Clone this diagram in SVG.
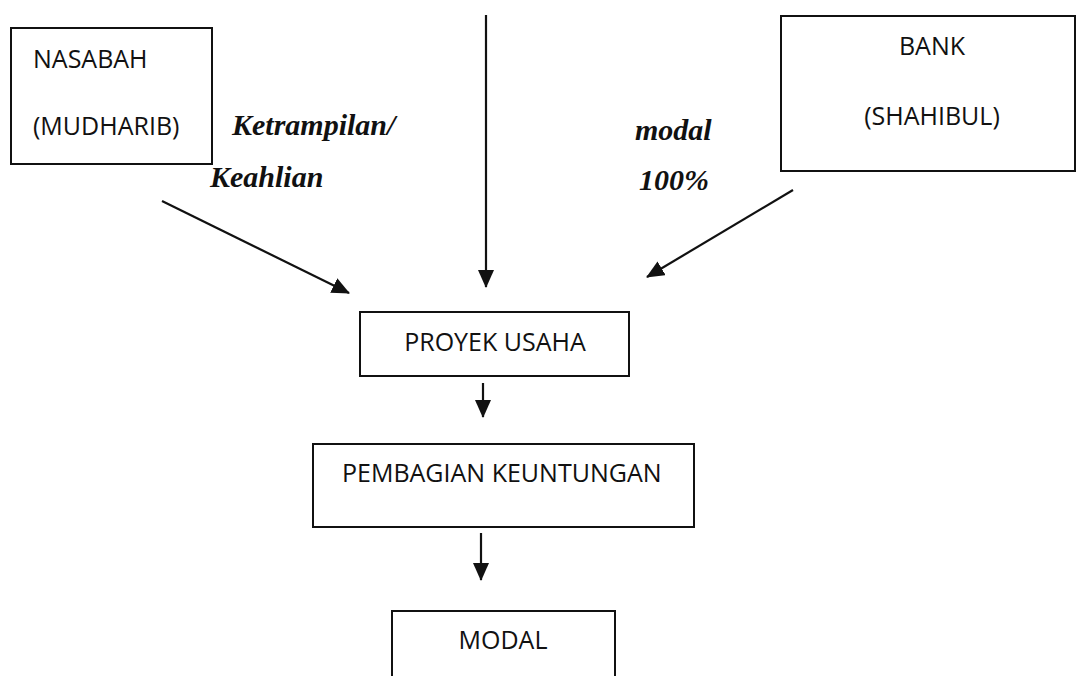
<svg xmlns="http://www.w3.org/2000/svg" width="1079" height="676" viewBox="0 0 1079 676">
  <style>
    .box { fill: #ffffff; stroke: #111111; stroke-width: 2; }
    .lbl { font-family: "Open Sans", "Liberation Sans", sans-serif; font-size: 25px; fill: #111111; }
    .em { font-family: "Liberation Serif", "Times New Roman", serif; font-size: 30px; font-weight: bold; font-style: italic; fill: #111111; }
    .conn { stroke: #111111; stroke-width: 2.2; fill: none; marker-end: url(#ah); }
  </style>
  <defs>
    <marker id="ah" markerUnits="userSpaceOnUse" markerWidth="18" markerHeight="16" viewBox="0 0 18 16" refX="17" refY="8" orient="auto">
      <path d="M0,0 L18,8 L0,16 Z" fill="#111111"/>
    </marker>
  </defs>
  <rect width="1079" height="676" fill="#ffffff"/>

  <g id="connectors">
    <line class="conn" x1="162" y1="201" x2="349" y2="293"/>
    <line class="conn" x1="486" y1="15" x2="486" y2="287"/>
    <line class="conn" x1="793" y1="190" x2="647" y2="277"/>
    <line class="conn" x1="483" y1="383" x2="483" y2="417"/>
    <line class="conn" x1="481" y1="533" x2="481" y2="580"/>
  </g>

  <g id="nasabah">
    <rect class="box" x="11" y="28" width="201" height="136"/>
    <text class="lbl" x="33" y="68">NASABAH</text>
    <text class="lbl" x="33" y="135">(MUDHARIB)</text>
  </g>

  <g id="bank">
    <rect class="box" x="781" y="16" width="294" height="155"/>
    <text class="lbl" x="932" y="55" text-anchor="middle">BANK</text>
    <text class="lbl" x="932" y="125" text-anchor="middle">(SHAHIBUL)</text>
  </g>

  <g id="label-keahlian">
    <text class="em" x="232" y="135">Ketrampilan/</text>
    <text class="em" x="210" y="187">Keahlian</text>
  </g>

  <g id="label-modal">
    <text class="em" x="635" y="140">modal</text>
    <text class="em" x="639" y="190">100%</text>
  </g>

  <g id="proyek-usaha">
    <rect class="box" x="360" y="312" width="269" height="64"/>
    <text class="lbl" x="495" y="351" text-anchor="middle">PROYEK USAHA</text>
  </g>

  <g id="pembagian-keuntungan">
    <rect class="box" x="313" y="444" width="381" height="83"/>
    <text class="lbl" x="342" y="482">PEMBAGIAN KEUNTUNGAN</text>
  </g>

  <g id="modal">
    <rect class="box" x="392" y="611" width="223" height="80"/>
    <text class="lbl" x="503" y="649" text-anchor="middle">MODAL</text>
  </g>
</svg>
